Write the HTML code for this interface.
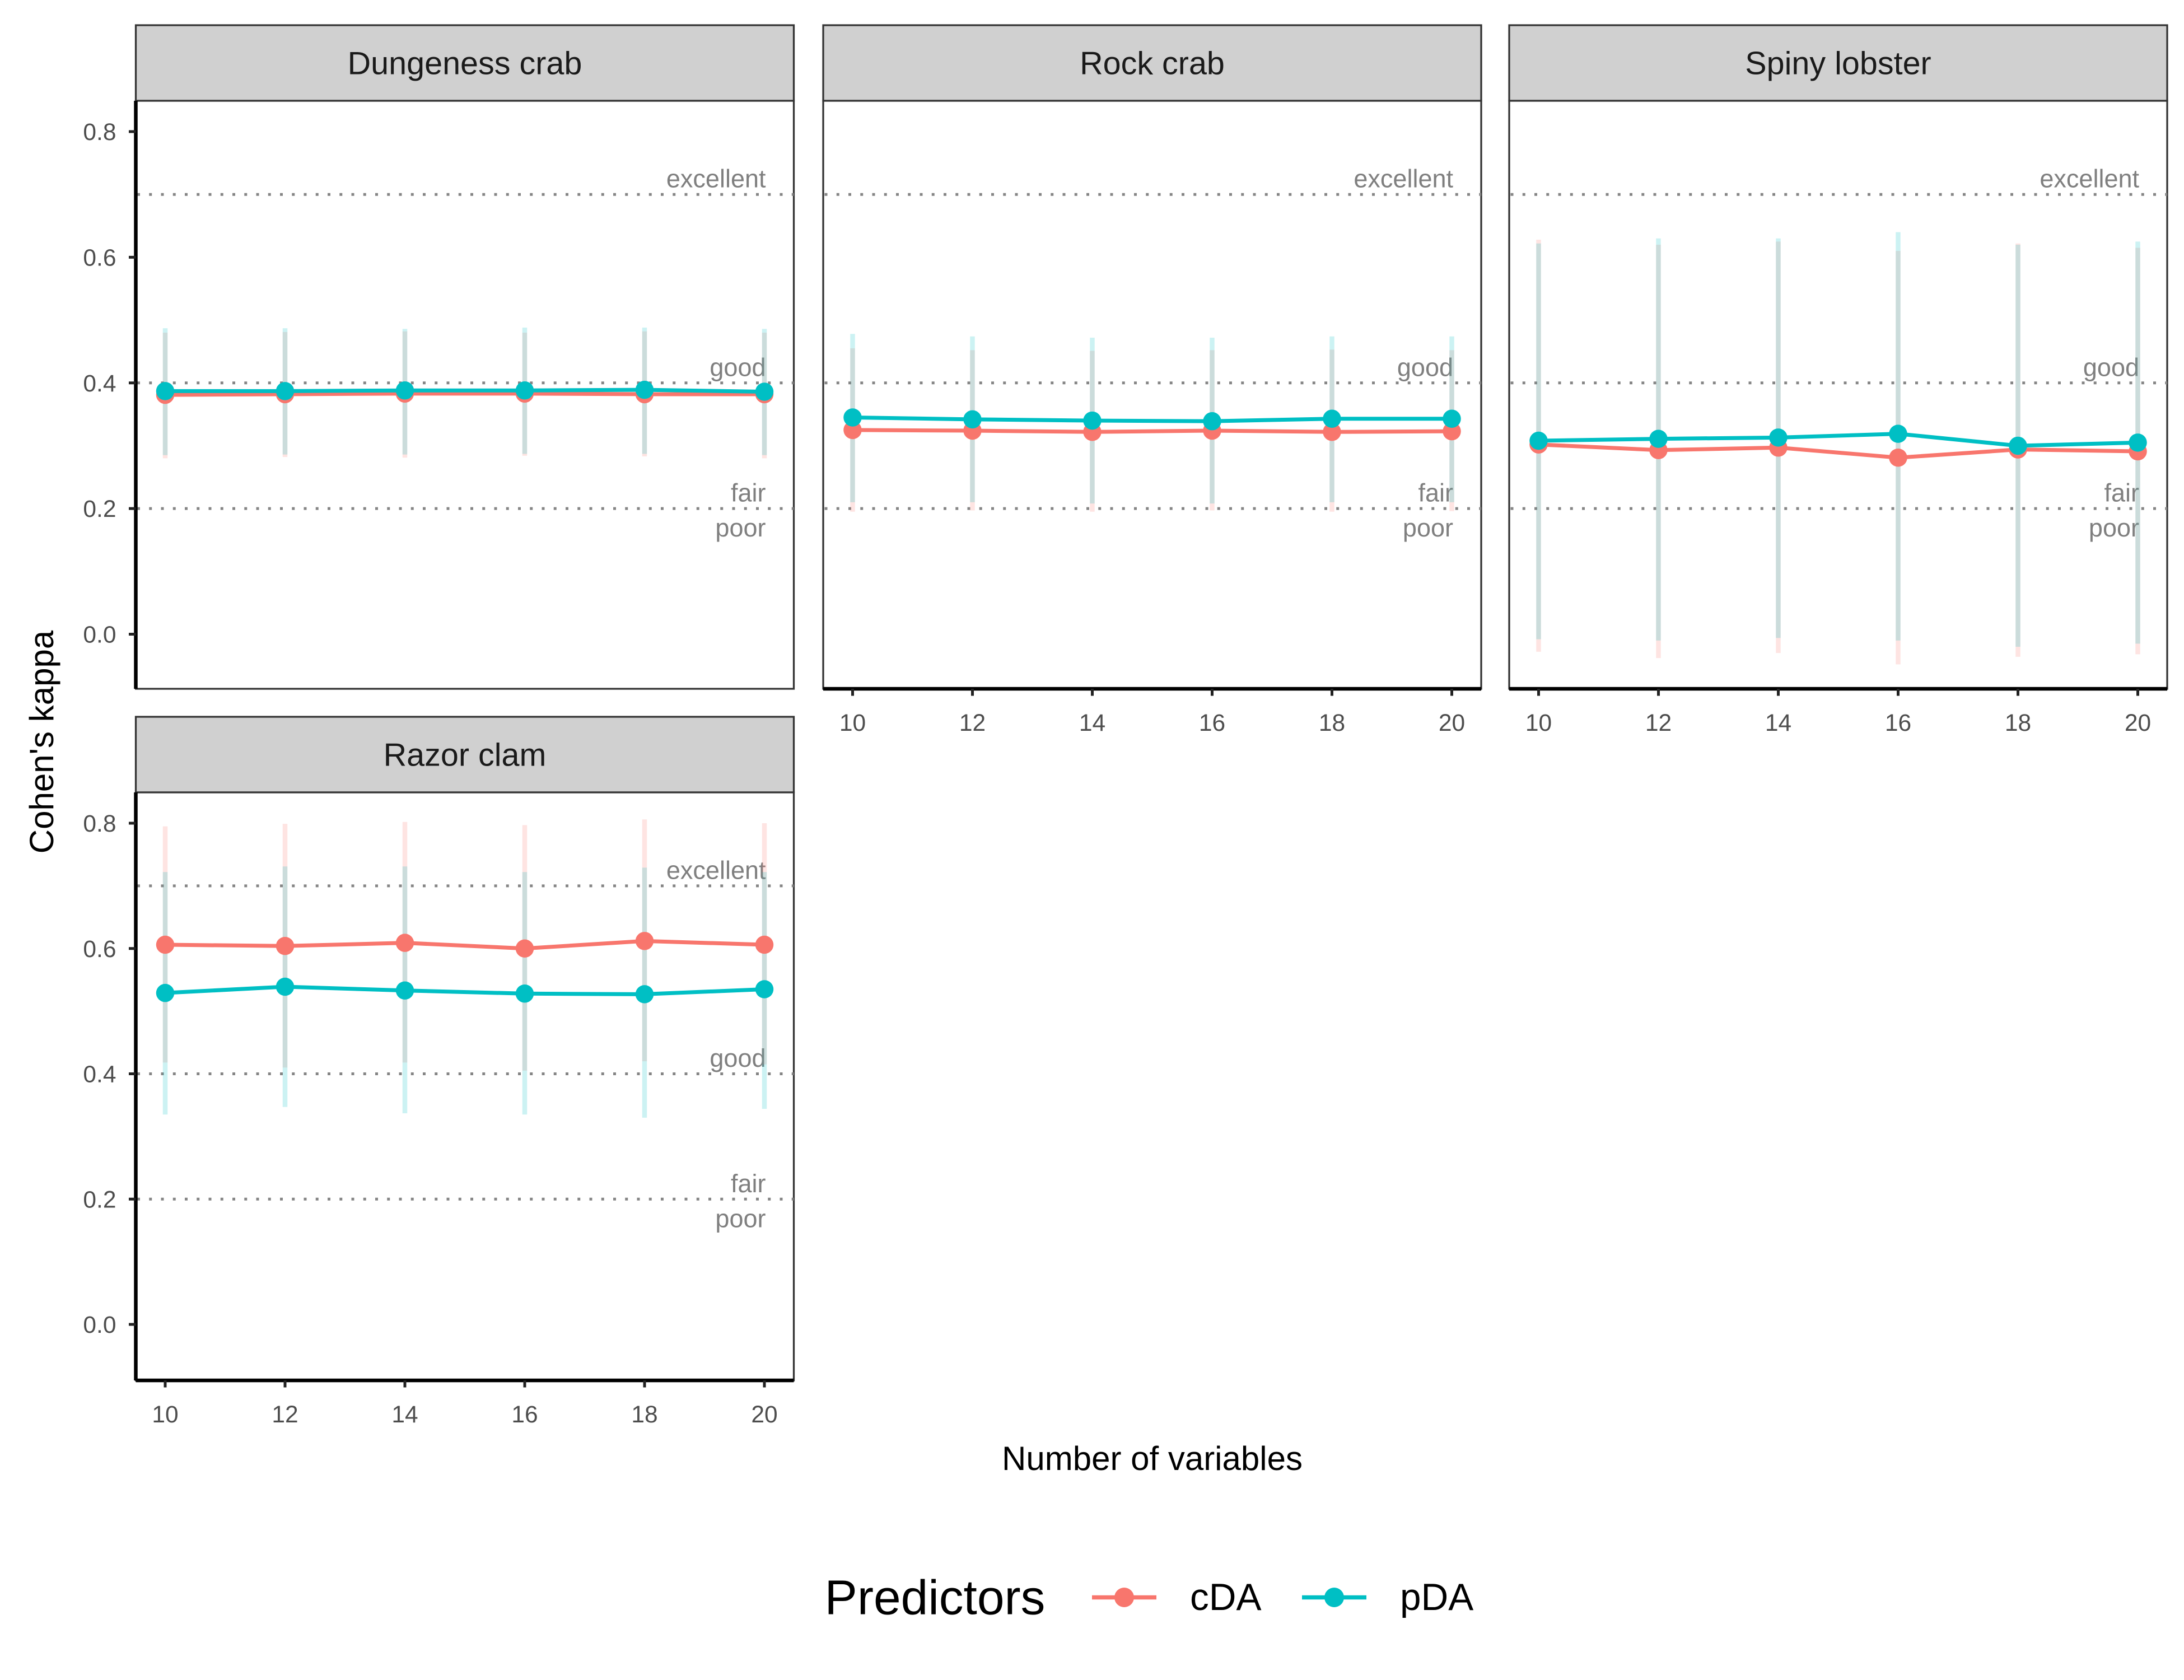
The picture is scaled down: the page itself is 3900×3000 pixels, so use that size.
<!DOCTYPE html>
<html><head><meta charset="utf-8"><style>
html,body{margin:0;padding:0;background:#fff;}
svg{display:block;font-family:"Liberation Sans",Arial,sans-serif;}
</style></head><body>
<svg id="chart" width="3900" height="3000" viewBox="0 0 1560 1200" xmlns="http://www.w3.org/2000/svg">
<rect width="1560" height="1200" fill="#fff"/>
<g id="root"></g>
</svg>
<script>
const xVals = [10, 12, 14, 16, 18, 20];
const yTicks = [0.0, 0.2, 0.4, 0.6, 0.8];
const yTickLabels = ["0.0", "0.2", "0.4", "0.6", "0.8"];
const xTickLabels = ["10", "12", "14", "16", "18", "20"];
const refLevels = [0.2, 0.4, 0.7];
const panelNames = ["Dungeness crab", "Rock crab", "Spiny lobster", "Razor clam"];
// Dungeness crab
const dcC = [0.381, 0.382, 0.383, 0.383, 0.382, 0.382];
const dcClo = [0.280, 0.282, 0.281, 0.284, 0.283, 0.280];
const dcChi = [0.480, 0.481, 0.482, 0.480, 0.482, 0.480];
const dcP = [0.387, 0.387, 0.388, 0.388, 0.389, 0.386];
const dcPlo = [0.285, 0.286, 0.286, 0.287, 0.287, 0.285];
const dcPhi = [0.487, 0.487, 0.486, 0.488, 0.488, 0.486];
// Rock crab
const rcC = [0.325, 0.324, 0.322, 0.324, 0.322, 0.323];
const rcClo = [0.195, 0.197, 0.195, 0.197, 0.195, 0.196];
const rcChi = [0.455, 0.452, 0.451, 0.452, 0.453, 0.452];
const rcP = [0.345, 0.342, 0.340, 0.339, 0.343, 0.343];
const rcPlo = [0.210, 0.210, 0.208, 0.208, 0.210, 0.210];
const rcPhi = [0.478, 0.474, 0.472, 0.472, 0.474, 0.474];
// Spiny lobster
const slC = [0.302, 0.293, 0.297, 0.281, 0.294, 0.291];
const slClo = [-0.028, -0.038, -0.030, -0.048, -0.036, -0.032];
const slChi = [0.628, 0.620, 0.625, 0.610, 0.622, 0.615];
const slP = [0.308, 0.311, 0.313, 0.319, 0.300, 0.305];
const slPlo = [-0.008, -0.010, -0.006, -0.010, -0.020, -0.015];
const slPhi = [0.622, 0.630, 0.630, 0.640, 0.620, 0.625];
// Razor clam
const rzC = [0.606, 0.604, 0.609, 0.600, 0.612, 0.606];
const rzClo = [0.418, 0.410, 0.418, 0.405, 0.420, 0.415];
const rzChi = [0.795, 0.799, 0.802, 0.797, 0.806, 0.800];
const rzP = [0.529, 0.539, 0.533, 0.528, 0.527, 0.535];
const rzPlo = [0.335, 0.347, 0.337, 0.335, 0.330, 0.344];
const rzPhi = [0.722, 0.731, 0.731, 0.722, 0.729, 0.722];

const RED = "#F8766D", CYAN = "#00BFC4";
const NS = "http://www.w3.org/2000/svg";
const root = document.getElementById("root");
function el(tag, attrs, parent) {
  const e = document.createElementNS(NS, tag);
  for (const k in attrs) e.setAttribute(k, attrs[k]);
  (parent || root).appendChild(e);
  return e;
}
const panels = [
  {name: panelNames[0], x0: 97, top: 18, y0: 453, sc: 448.75, leftAxis: true, bottomAxis: false,
   c: dcC, clo: dcClo, chi: dcChi, p: dcP, plo: dcPlo, phi: dcPhi, key: "dungeness-crab"},
  {name: panelNames[1], x0: 588, top: 18, y0: 453, sc: 448.75, leftAxis: false, bottomAxis: true,
   c: rcC, clo: rcClo, chi: rcChi, p: rcP, plo: rcPlo, phi: rcPhi, key: "rock-crab"},
  {name: panelNames[2], x0: 1078, top: 18, y0: 453, sc: 448.75, leftAxis: false, bottomAxis: true,
   c: slC, clo: slClo, chi: slChi, p: slP, plo: slPlo, phi: slPhi, key: "spiny-lobster"},
  {name: panelNames[3], x0: 97, top: 512, y0: 946, sc: 447.5, leftAxis: true, bottomAxis: true,
   c: rzC, clo: rzClo, chi: rzChi, p: rzP, plo: rzPlo, phi: rzPhi, key: "razor-clam"}
];
const W = 470, STRIP = 54, PH = 420;
panels.forEach(P => {
  const g = el("g", {});
  
  
  const pt = P.top + STRIP, pb = pt + PH;
  const xs = v => P.x0 + 21 + (v - 10) / 10 * 428;
  const ys = v => P.y0 - v * P.sc;
  const strip = el("rect", {x: P.x0, y: P.top, width: W, height: STRIP, fill: "#D0D0D0", stroke: "#333", "stroke-width": 1.3}, g);
  
  
  const st = el("text", {x: P.x0 + W / 2, y: P.top + 35, "text-anchor": "middle", "font-size": 23, fill: "#1a1a1a"}, g);
  st.textContent = P.name;
  
  
  el("rect", {x: P.x0, y: pt, width: W, height: PH, fill: "#fff", stroke: "#333", "stroke-width": 1.3}, g);
  const labs = [["fair", "poor"], ["good"], ["excellent"]];
  refLevels.forEach((lv, i) => {
    const y = ys(lv);
    const ln = el("line", {x1: P.x0 + 1, x2: P.x0 + W, y1: y, y2: y, stroke: "#858585", "stroke-width": 2, "stroke-dasharray": "2 6.5"}, g);
    
    
    const t = el("text", {x: P.x0 + 450, y: y - 5, "text-anchor": "end", "font-size": 18, fill: "#7f7f7f"}, g);
    t.textContent = labs[i][0];
    
    
    if (labs[i][1]) {
      const t2 = el("text", {x: P.x0 + 450, y: y + 20, "text-anchor": "end", "font-size": 18, fill: "#7f7f7f"}, g);
      t2.textContent = labs[i][1];
      
      
    }
  });
  [[P.clo, P.chi, RED], [P.plo, P.phi, CYAN]].forEach(([lo, hi, col]) => {
    xVals.forEach((xv, i) => {
      const b = el("line", {x1: xs(xv), x2: xs(xv), y1: ys(lo[i]), y2: ys(hi[i]), stroke: col, "stroke-width": 3.4, "stroke-opacity": 0.2}, g);
      
      
    });
  });
  [[P.c, RED, "cda"], [P.p, CYAN, "pda"]].forEach(([vals, col, nm]) => {
    const pl = el("polyline", {points: xVals.map((xv, i) => xs(xv) + "," + ys(vals[i])).join(" "), fill: "none", stroke: col, "stroke-width": 2.8}, g);
    
    
    xVals.forEach((xv, i) => {
      const c = el("circle", {cx: xs(xv), cy: ys(vals[i]), r: 6.5, fill: col}, g);
      
      
    });
  });
  if (P.leftAxis) {
    el("line", {x1: P.x0, x2: P.x0, y1: pt, y2: pb, stroke: "#000", "stroke-width": 2.6}, g);
    yTicks.forEach((tv, i) => {
      const y = ys(tv);
      el("line", {x1: P.x0 - 5, x2: P.x0, y1: y, y2: y, stroke: "#222", "stroke-width": 2}, g);
      const t = el("text", {x: P.x0 - 14, y: y + 6, "text-anchor": "end", "font-size": 17, fill: "#4D4D4D"}, g);
      t.textContent = yTickLabels[i];
      
      
    });
  }
  if (P.bottomAxis) {
    el("line", {x1: P.x0, x2: P.x0 + W, y1: pb, y2: pb, stroke: "#000", "stroke-width": 2.6}, g);
    xVals.forEach((xv, i) => {
      const x = xs(xv);
      el("line", {x1: x, x2: x, y1: pb, y2: pb + 5, stroke: "#222", "stroke-width": 2}, g);
      const t = el("text", {x: x, y: pb + 30, "text-anchor": "middle", "font-size": 17, fill: "#4D4D4D"}, g);
      t.textContent = xTickLabels[i];
      
      
    });
  }
});
const yt = el("text", {x: 0, y: 0, transform: "translate(38,530) rotate(-90)", "text-anchor": "middle", "font-size": 24, fill: "#000"});
yt.textContent = "Cohen's kappa";


const xt = el("text", {x: 823, y: 1050, "text-anchor": "middle", "font-size": 24, fill: "#000"});
xt.textContent = "Number of variables";


const lg = el("g", {});


const lt = el("text", {x: 589, y: 1153, "font-size": 35, fill: "#000"}, lg);
lt.textContent = "Predictors";


[[RED, "cDA", 780, 850], [CYAN, "pDA", 930, 1000]].forEach(([col, lab, kx, tx]) => {
  const e = el("g", {}, lg);
  
  
  el("line", {x1: kx, x2: kx + 46, y1: 1141, y2: 1141, stroke: col, "stroke-width": 3}, e);
  el("circle", {cx: kx + 23, cy: 1141, r: 7, fill: col}, e);
  const t = el("text", {x: tx, y: 1150, "font-size": 27, fill: "#000"}, e);
  t.textContent = lab;
});
</script>
</body></html>
